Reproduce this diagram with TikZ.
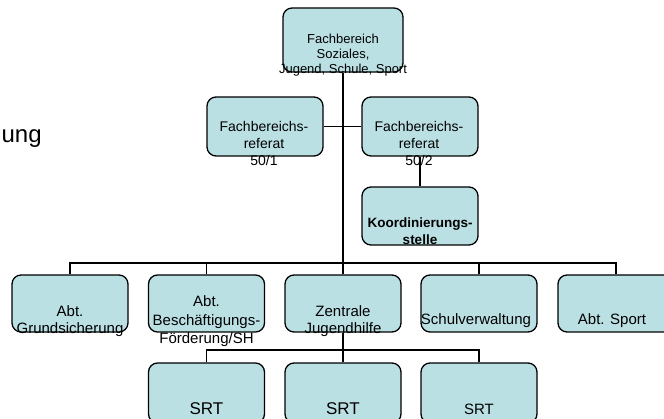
\documentclass[tikz,border=0pt]{standalone}
\usepackage{fontspec}
\setmainfont{Liberation Sans}
\usetikzlibrary{positioning}
\definecolor{boxfill}{RGB}{187,224,228}

\begin{document}
\begin{tikzpicture}[x=1pt, y=-1pt, line width=1.3pt,
        box/.style={draw, fill=boxfill, rounded corners=9pt, minimum width=116pt, minimum height=58pt, inner sep=0pt},
        txt/.style={align=center, anchor=base, inner sep=0pt}]
            \useasboundingbox (0,0) rectangle (664,419);
            \clip (0,0) rectangle (664,419);

            \node [anchor=base west, inner sep=0pt, font=\fontsize{24}{28}\selectfont] (title) at (1,143) {ung};

            \node [box, minimum width=120pt, minimum height=64pt] (fb) at (343,40) {};
            \node [box, minimum height=59pt] (ref1) at (265,126.5) {};
            \node [box, minimum height=59pt] (ref2) at (420,126.5) {};
            \node [box] (koord) at (420,216) {};

            \node [box, minimum height=57pt] (grund) at (70,303.5) {};
            \node [box, minimum height=57pt] (besch) at (206.5,303.5) {};
            \node [box, minimum height=57pt] (zen) at (343,303.5) {};
            \node [box, minimum height=57pt] (schul) at (479,303.5) {};
            \node [box, minimum height=57pt] (sport) at (616,303.5) {};

            \node [box, minimum height=60pt] (srt1) at (206.5,393) {};
            \node [box, minimum height=60pt] (srt2) at (343,393) {};
            \node [box, minimum height=60pt] (srt3) at (479,393) {};

            \coordinate (bus) at (343,263);
            \coordinate (sub) at (343,350);

            \draw (fb) -- (zen);
            \draw (ref1) -- (ref2);
            \draw (ref2) -- (koord);
            \draw (grund.north) |- (bus) -| (sport.north);
            \foreach \n in {besch, schul}
                \draw (\n.north) -- (\n.north |- bus);
            \draw (zen) -- (srt2);
            \draw (srt1.north) |- (sub) -| (srt3.north);

            % base of a multi-line node is its last line
            \node [txt, font=\fontsize{13}{15}\selectfont] (fb-t) at (343,73.5) {Fachbereich\\Soziales,\\Jugend, Schule, Sport};
            \node [txt, font=\fontsize{14}{17}\selectfont] (ref1-t) at (264,166) {Fachbereichs-\\referat\\50/1};
            \node [txt, font=\fontsize{14}{17}\selectfont] (ref2-t) at (419,166) {Fachbereichs-\\referat\\50/2};
            \node [txt, font=\bfseries\fontsize{13.5}{17}\selectfont] (koord-t) at (420,245) {Koordinierungs-\\stelle};

            \node [txt, font=\fontsize{15}{17}\selectfont] (grund-t) at (70,334) {Abt.\\Grundsicherung};
            \node [txt, font=\fontsize{15}{18.5}\selectfont] (besch-t) at (206.5,344) {Abt.\\Beschäftigungs-\\Förderung/SH};
            \node [txt, font=\fontsize{15}{17}\selectfont] (zen-t) at (343,334) {Zentrale\\Jugendhilfe};
            \node [txt, font=\fontsize{15}{17}\selectfont] (schul-t) at (476,325) {Schulverwaltung};
            \node [txt, font=\fontsize{15}{17}\selectfont] (sport-t) at (612,325) {Abt. Sport};

            \node [txt, font=\fontsize{17}{20}\selectfont] (srt1-t) at (206.5,414) {SRT};
            \node [txt, font=\fontsize{17}{20}\selectfont] (srt2-t) at (343,414) {SRT};
            \node [txt, font=\fontsize{15}{18}\selectfont] (srt3-t) at (479,414) {SRT};
        \end{tikzpicture}
\end{document}
